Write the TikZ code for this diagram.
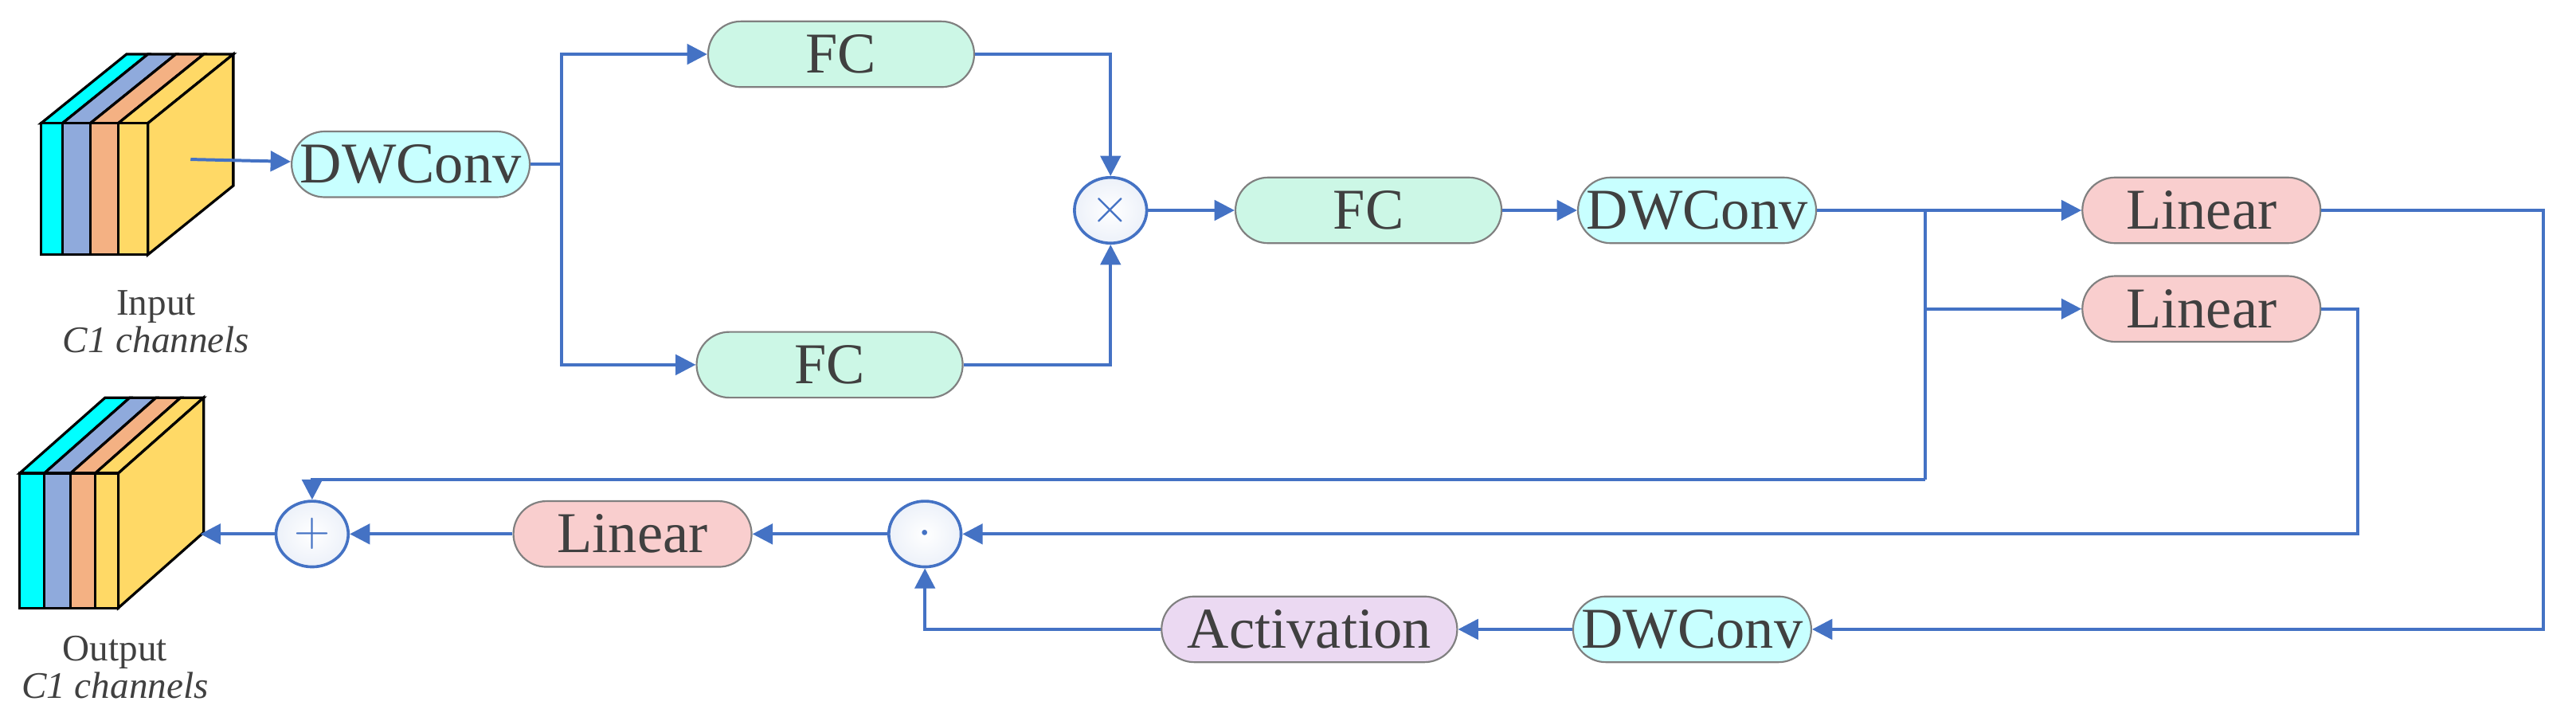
\documentclass[tikz,border=0pt]{standalone}
\usepackage{fontspec}
\setmainfont{Liberation Serif}
\usetikzlibrary{arrows.meta,shapes.geometric}
\definecolor{ln}{HTML}{4472C4}
\definecolor{tx}{HTML}{404040}
\definecolor{cyanF}{HTML}{C8FFFF}
\definecolor{mintF}{HTML}{CCF7E6}
\definecolor{pinkF}{HTML}{F9CECE}
\definecolor{lavF}{HTML}{EBD9F2}
\definecolor{c1}{HTML}{00FFFF}
\definecolor{c2}{HTML}{8FAADC}
\definecolor{c3}{HTML}{F4B183}
\definecolor{c4}{HTML}{FFD966}
\tikzset{
  box/.style={draw=gray, line width=0.6pt, rounded corners=0.4cm, minimum height=0.8cm, text=tx, font=\fontsize{20}{22}\selectfont, inner sep=0pt},
  b145/.style={box, minimum width=2.9cm},
  b162/.style={box, minimum width=3.24cm},
  op/.style={ellipse, draw=ln, line width=1pt, inner sep=0pt, minimum width=0.88cm, minimum height=0.8cm, inner color=white, outer color=ln!10, text=ln, font=\fontsize{16}{18}\selectfont},
  ar/.style={draw=ln, line width=1.1pt, -{Triangle[length=7pt,width=7pt]}},
  li/.style={draw=ln, line width=1.1pt},
  lab/.style={text=tx, font=\fontsize{13}{15}\selectfont, align=center},
  cube/.style={draw=black, line width=0.9pt}
}
\newcommand{\mycube}[7]{% x0 x1 x2 x3 x4 ytop ybot ; depth dx dy
  \fill[c1,cube] (#1,#6) rectangle (#2,#7);
  \fill[c2,cube] (#2,#6) rectangle (#3,#7);
  \fill[c3,cube] (#3,#6) rectangle (#4,#7);
  \fill[c4,cube] (#4,#6) rectangle (#5,#7);
}
\begin{document}
\begin{tikzpicture}[x=0.02cm,y=-0.02cm]
\useasboundingbox (0,0) rectangle (1568,436);
% input cube
\def\dx{52}\def\dy{42}
\foreach \a/\b/\c in {25/38/c1,38/55/c2,55/72/c3,72/90/c4}{
  \filldraw[fill=\c,cube] (\a,75) -- (\a+\dx,75-\dy) -- (\b+\dx,75-\dy) -- (\b,75) -- cycle;
}
\filldraw[fill=c4,cube] (90,75) -- (90+\dx,75-\dy) -- (90+\dx,155-\dy) -- (90,155) -- cycle;
\foreach \a/\b/\c in {25/38/c1,38/55/c2,55/72/c3,72/90/c4}{
  \filldraw[fill=\c,cube] (\a,75) rectangle (\b,155);
}
\node[lab] (inl) at (95,196) {Input\\[-2pt]\textit{C1 channels}};
\coordinate (inR) at (116,97);
% output cube
\def\ex{52}\def\ey{46}
\foreach \a/\b/\c in {12/27/c1,27/43/c2,43/58/c3,58/72/c4}{
  \filldraw[fill=\c,cube] (\a,288) -- (\a+\ex,288-\ey) -- (\b+\ex,288-\ey) -- (\b,288) -- cycle;
}
\filldraw[fill=c4,cube] (72,288) -- (72+\ex,288-\ey) -- (72+\ex,370-\ey) -- (72,370) -- cycle;
\foreach \a/\b/\c in {12/27/c1,27/43/c2,43/58/c3,58/72/c4}{
  \filldraw[fill=\c,cube] (\a,288) rectangle (\b,370);
}
\coordinate (outR) at (122,325);
\node[lab] (outl) at (70,406) {Output\\[-2pt]\textit{C1 channels}};
% boxes
\node[b145,fill=cyanF] (dw1) at (250,100) {DWConv};
\node[b162,fill=mintF] (fc1) at (512,33) {FC};
\node[b162,fill=mintF] (fc2) at (505,222) {FC};
\node[op] (mul) at (676,128) {$\times$};
\node[b162,fill=mintF] (fc3) at (833,128) {FC};
\node[b145,fill=cyanF] (dw2) at (1033,128) {DWConv};
\node[b145,fill=pinkF] (l1) at (1340,128) {Linear};
\node[b145,fill=pinkF] (l2) at (1340,188) {Linear};
\node[b145,fill=cyanF] (dw3) at (1030,383) {DWConv};
\node[box,minimum width=3.6cm,fill=lavF] (act) at (797,383) {Activation};
\node[op] (dot) at (563,325) {$\cdot$};
\node[b145,fill=pinkF] (l3) at (385,325) {Linear};
\node[op] (plus) at (190,325) {$+$};
% connectors
\draw[ar] (inR) -- (dw1);
\coordinate (s1) at (342,100);
\draw[li] (dw1) -- (s1);
\draw[ar] (s1) |- (fc1);
\draw[ar] (s1) |- (fc2);
\draw[ar] (fc1) -| (mul);
\draw[ar] (fc2) -| (mul);
\draw[ar] (mul) -- (fc3);
\draw[ar] (fc3) -- (dw2);
\draw[ar] (dw2) -- (l1);
\coordinate (s2) at (1172,128);
\coordinate (s3) at (1172,292);
\draw[ar] (s2) |- (l2);
\draw[li] (s2) -- (s3);
\draw[ar] (s3) -| (plus);
\coordinate (r1) at (1548,128);
\draw[ar] (l1) -- (r1) |- (dw3);
\draw[ar] (dw3) -- (act);
\draw[ar] (act) -| (dot);
\coordinate (r2) at (1435,188);
\draw[ar] (l2) -- (r2) |- (dot);
\draw[ar] (dot) -- (l3);
\draw[ar] (l3) -- (plus);
\draw[ar] (plus) -- (outR);
\end{tikzpicture}
\end{document}
